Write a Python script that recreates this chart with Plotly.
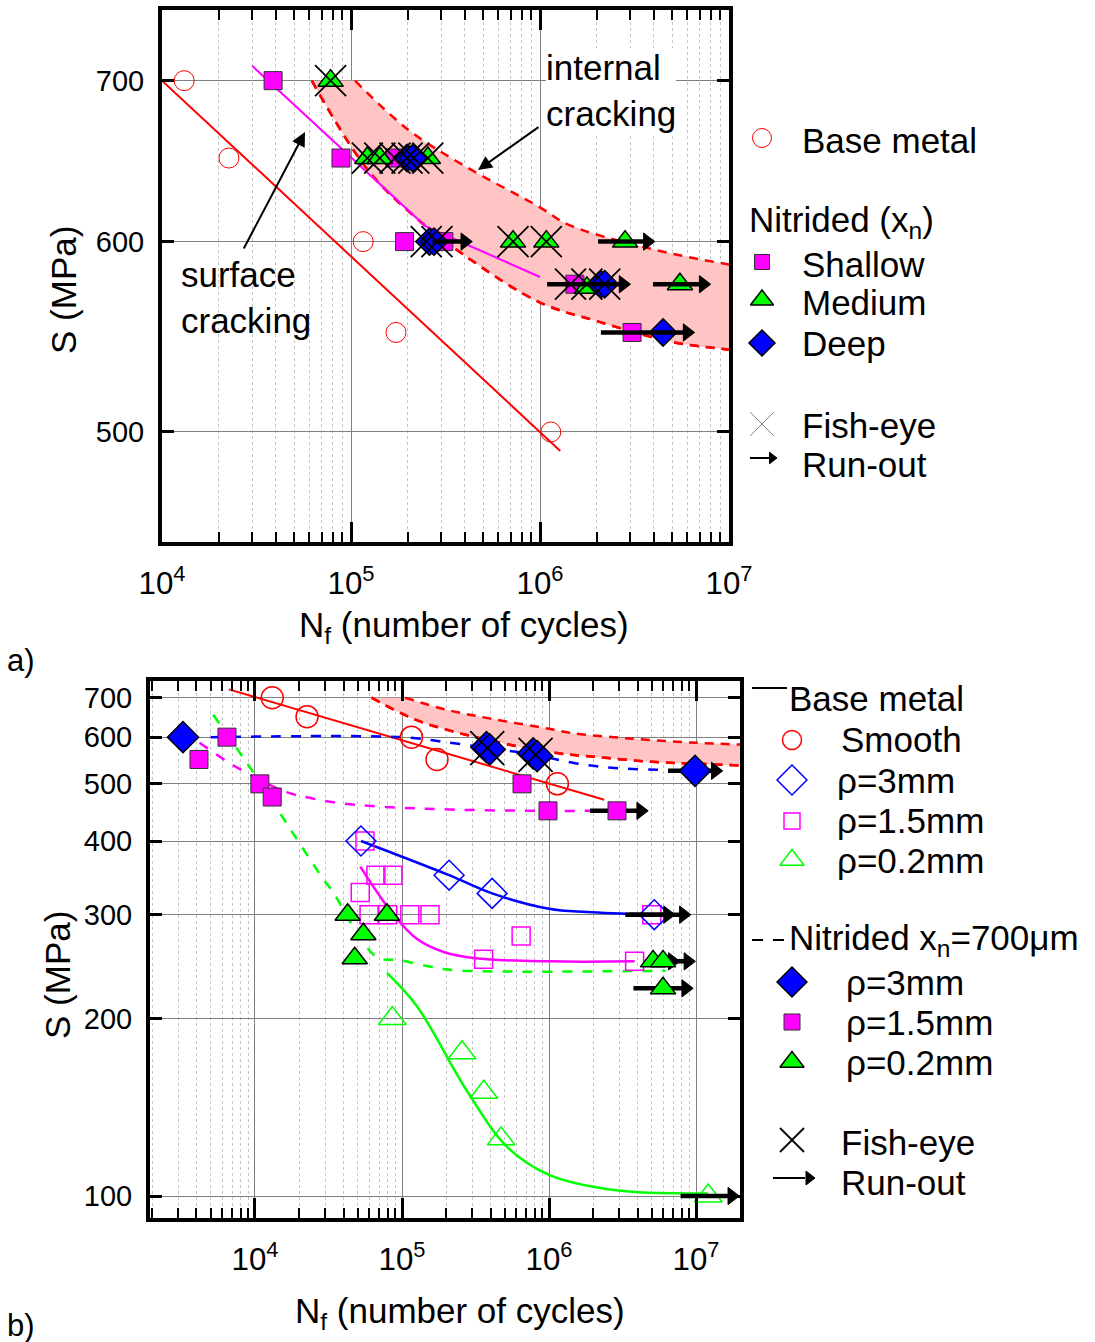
import math
import plotly.graph_objects as go

W, H = 1095, 1342
FONT = "Liberation Sans, Arial, sans-serif"

# ================= panel a) data =================
base_N = [1.31e4, 2.26e4, 1.16e5, 1.73e5, 1.14e6]
base_S = [700, 650, 600, 550, 500]
base_fit_a_N = [1.0e4, 1.28e6]
base_fit_a_S = [700, 491]

shallow_fit_N = [3.0e4, 2.47e5, 1.0e6]
shallow_fit_S = [710, 609, 580]

shallow_N = [3.87e4, 8.85e4, 1.71e5, 1.92e5, 3.1e5, 1.53e6, 3.07e6]
shallow_S = [700, 650, 650, 600, 600, 576, 550]
medium_N = [7.8e4, 1.22e5, 1.42e5, 2.55e5, 7.2e5, 1.08e6, 2.82e6, 1.77e6, 5.5e6]
medium_S = [700, 650, 650, 650, 600, 600, 600, 574, 576]
deep_N = [1.98e5, 2.12e5, 2.6e5, 2.75e5, 2.1e6, 2.2e6, 4.48e6]
deep_S = [650, 650, 600, 600, 576, 576, 550]

fish_a_N = [7.8e4, 1.22e5, 1.42e5, 1.71e5, 1.98e5, 2.15e5, 2.55e5, 2.5e5, 2.85e5,
            7.2e5, 1.08e6, 1.45e6, 1.77e6, 2.2e6]
fish_a_S = [700, 650, 650, 650, 650, 650, 650, 600, 600, 600, 600, 576, 576, 576]

runout_a_start = [2.7e5, 2.03e6, 1.09e6, 3.96e6, 2.1e6]
runout_a_end = [4.0e5, 3.7e6, 2.75e6, 7.3e6, 6.0e6]
runout_a_S = [600, 600, 576, 576, 550]

# internal-cracking scatter band (shared by both panels)
band_up_N = [1.05e5, 2.0e5, 4.0e5, 1.0e6, 1.4e6, 3.5e6, 1.0e7, 2.0e7]
band_up_S = [700, 668, 645, 620, 610, 597, 587, 583]
band_lo_N = [6.2e4, 1.22e5, 2.2e5, 4.0e5, 1.0e6, 2.0e6, 5.0e6, 1.0e7, 2.0e7]
band_lo_S = [700, 643, 614, 592, 566, 556, 545, 541, 537]

# ================= panel b) data =================
base_fit_b_N = [6.65e3, 2.37e6]
base_fit_b_S = [723, 470]

b3_N = [5.26e4, 2.09e5, 4.1e5, 5.2e6]
b3_S = [400, 350, 326, 300]
b3_fit_N = [5.26e4, 2.09e5, 4.1e5, 1.0e6, 1.8e6, 5.0e6]
b3_fit_S = [400, 350, 326, 307, 303, 300]

b15_N = [5.6e4, 6.65e4, 8.67e4, 5.2e4, 5.97e4, 8.0e4, 1.13e5, 1.55e5, 6.46e5, 3.59e5, 3.82e6, 5.0e6]
b15_S = [400, 350, 350, 327, 300, 300, 300, 300, 276, 252, 250, 300]
b15_fit_N = [5.2e4, 8.67e4, 1.26e5, 1.94e5, 3.17e5, 1.0e6, 3.82e6]
b15_fit_S = [362, 301, 273, 259, 253, 250, 250]

b02_N = [8.6e4, 2.56e5, 3.6e5, 4.72e5, 1.21e7]
b02_S = [200, 175, 150, 125, 100]
b02_fit_N = [7.9e4, 1.26e5, 2.8e5, 5.2e5, 1.0e6, 2.75e6, 1.21e7]
b02_fit_S = [239, 210, 150, 121, 108.6, 102.4, 101]

n3_N = [3.24e3, 3.75e5, 3.95e5, 7.8e5, 8.3e5, 9.84e6]
n3_S = [600, 577, 572, 563, 557, 526]
n3_fit_N = [5.0e3, 1.0e5, 1.83e5, 3.86e5, 8.1e5, 1.5e6, 2.8e6, 6.3e6]
n3_fit_S = [600, 600, 590, 575, 560, 542, 532, 528]

n15_N = [4.16e3, 6.45e3, 1.08e4, 1.31e4, 6.55e5, 9.84e5, 2.9e6]
n15_S = [550, 600, 500, 475, 500, 450, 450]
n15_fit_N = [4.2e3, 7.35e3, 1.64e4, 2.38e4, 3.67e4, 7.7e4, 2.35e5, 1.0e6, 1.95e6]
n15_fit_S = [587, 535, 484, 473, 464, 457, 452, 450, 450]

n02_N = [4.27e4, 7.9e4, 5.46e4, 4.77e4, 5.1e6, 5.96e6, 5.96e6]
n02_S = [300, 300, 278, 253, 250, 250, 225]
n02_fit_N = [5.2e3, 1.0e4, 1.75e4, 2.86e4, 3.44e4, 4.68e4, 6.78e4, 9.8e4, 1.6e5, 2.33e5, 6.2e6]
n02_fit_S = [655, 518, 418, 347, 326, 286, 254, 251, 244.5, 241.4, 241]

fish_b_N = [3.8e5, 8.1e5]
fish_b_S = [575, 560]

runout_b_start = [6.45e6, 1.9e6, 3.3e6, 3.5e6, 4.5e6, 5.0e6, 3.75e6, 7.85e6]
runout_b_end = [1.35e7, 4.2e6, 6.4e6, 8.2e6, 6.9e6, 8.8e6, 8.5e6, 1.75e7]
runout_b_S = [526, 450, 300, 300, 250, 250, 225, 100]

# ================= figure =================
fig = go.Figure()

RED, MAG, GRN, BLU = "#ff0000", "#ff00ff", "#00ff00", "#0000ff"


def line(xs, ys, color, width, dash="solid", shape="linear", ax="", fill=None, fillcolor=None):
    fig.add_trace(go.Scatter(x=xs, y=ys, mode="lines", xaxis="x" + ax, yaxis="y" + ax,
                             line=dict(color=color, width=width, dash=dash, shape=shape, smoothing=1.0),
                             fill=fill, fillcolor=fillcolor, showlegend=False, hoverinfo="skip"))


def pts(xs, ys, symbol, size, color, lcolor, lw, ax=""):
    fig.add_trace(go.Scatter(x=xs, y=ys, mode="markers", xaxis="x" + ax, yaxis="y" + ax,
                             marker=dict(symbol=symbol, size=size, color=color,
                                         line=dict(color=lcolor, width=lw)),
                             showlegend=False, hoverinfo="skip"))


def runouts(starts, ends, ss, ax="", lw=4.5, hs=15):
    for a, b, s in zip(starts, ends, ss):
        line([a, b], [s, s], "black", lw, ax=ax)
    pts(ends, ss, "triangle-right", hs, "black", "black", 1, ax=ax)


BAND = "rgb(255,196,196)"
BAND_DASH = "9px,7px"

# ---------- panel a ----------
line(band_lo_N, band_lo_S, RED, 2.5, BAND_DASH, "spline")
line(band_up_N, band_up_S, RED, 2.5, BAND_DASH, "spline", fill="tonexty", fillcolor=BAND)
line(band_lo_N, band_lo_S, RED, 2.5, BAND_DASH, "spline")
line(base_fit_a_N, base_fit_a_S, RED, 2)
line(shallow_fit_N, shallow_fit_S, MAG, 2)
pts(base_N, base_S, "circle-open", 20, RED, RED, 1)
pts(shallow_N, shallow_S, "square", 18, MAG, "#303030", 1)
pts(medium_N, medium_S, "triangle-up", 22, GRN, "black", 1.5)
pts(deep_N, deep_S, "diamond", 21, BLU, "black", 1.5)
runouts(runout_a_start, runout_a_end, runout_a_S)
pts(fish_a_N, fish_a_S, "x-thin-open", 31, "black", "black", 1.8)

# ---------- panel b ----------
line(band_lo_N, band_lo_S, RED, 2.5, BAND_DASH, "spline", ax="2")
line(band_up_N, band_up_S, RED, 2.5, BAND_DASH, "spline", ax="2", fill="tonexty", fillcolor=BAND)
line(band_lo_N, band_lo_S, RED, 2.5, BAND_DASH, "spline", ax="2")
line(base_fit_b_N, base_fit_b_S, RED, 2, ax="2")
line(b3_fit_N, b3_fit_S, BLU, 2.5, shape="spline", ax="2")
line(b15_fit_N, b15_fit_S, MAG, 2.5, shape="spline", ax="2")
line(b02_fit_N, b02_fit_S, GRN, 2.5, shape="spline", ax="2")
line(n3_fit_N, n3_fit_S, BLU, 2.5, "10px,10px", "spline", ax="2")
line(n15_fit_N, n15_fit_S, MAG, 2.5, "10px,10px", "spline", ax="2")
line(n02_fit_N, n02_fit_S, GRN, 2.5, "10px,10px", "spline", ax="2")
pts(base_N, base_S, "circle-open", 22, RED, RED, 1.5, ax="2")
pts(b15_N, b15_S, "square-open", 18, MAG, MAG, 1.5, ax="2")
pts(b3_N, b3_S, "diamond-open", 23, BLU, BLU, 1.5, ax="2")
pts(b02_N, b02_S, "triangle-up-open", 24, GRN, GRN, 1.5, ax="2")
runouts(runout_b_start, runout_b_end, runout_b_S, ax="2")
pts(n15_N, n15_S, "square", 18, MAG, "#303030", 1, ax="2")
pts(n02_N, n02_S, "triangle-up", 22, GRN, "black", 1.5, ax="2")
pts(n3_N, n3_S, "diamond", 24, BLU, "black", 1.5, ax="2")
pts(fish_b_N, fish_b_S, "x-thin-open", 34, "black", "black", 1.8, ax="2")

# ---------- legends (drawn in a pixel-space overlay axis) ----------
LX0 = 740


def lpts(x, y, symbol, size, color, lcolor, lw):
    fig.add_trace(go.Scatter(x=[x], y=[y], mode="markers", xaxis="x3", yaxis="y3",
                             marker=dict(symbol=symbol, size=size, color=color,
                                         line=dict(color=lcolor, width=lw)),
                             showlegend=False, hoverinfo="skip", cliponaxis=False))


def lline(x0, x1, y, color, width, dash="solid"):
    fig.add_trace(go.Scatter(x=[x0, x1], y=[y, y], mode="lines", xaxis="x3", yaxis="y3",
                             line=dict(color=color, width=width, dash=dash),
                             showlegend=False, hoverinfo="skip", cliponaxis=False))


# panel a legend symbols
lpts(762, 138, "circle-open", 19, RED, RED, 1)
lpts(762, 262, "square", 15, MAG, "#303030", 1)
lpts(762, 300, "triangle-up", 20, GRN, "black", 1.5)
lpts(762, 343, "diamond", 20, BLU, "black", 1.5)
lpts(762, 424, "x-thin-open", 24, "#888888", "#888888", 1)
lline(750, 770, 458, "black", 2)
lpts(772, 458, "triangle-right", 10, "black", "black", 1)

# panel b legend symbols
lline(752, 787, 688, "black", 2)
lpts(792, 740, "circle-open", 19, RED, RED, 1.5)
lpts(792, 780, "diamond-open", 23, BLU, BLU, 1.5)
lpts(792, 821, "square-open", 16, MAG, MAG, 1.5)
lpts(792, 860, "triangle-up-open", 21, GRN, GRN, 1.5)
lline(752, 786, 940, "black", 2, "11px,10px")
lpts(792, 982, "diamond", 23, BLU, "black", 1.5)
lpts(792, 1022, "square", 16, MAG, "#303030", 1)
lpts(792, 1062, "triangle-up", 21, GRN, "black", 1.5)
lpts(792, 1140, "x-thin-open", 24, "black", "black", 1.8)
lline(773, 805, 1178, "black", 2)
lpts(809, 1178, "triangle-right", 12, "black", "black", 1)


def px(x):
    return x / W


def py(y):
    return 1 - y / H


ann = []


def text(x, y, t, size=36, xanchor="left", angle=0, bg=None, family=FONT):
    d = dict(x=px(x), y=py(y), xref="paper", yref="paper", text=t, showarrow=False,
             xanchor=xanchor, yanchor="middle", align="left", textangle=angle,
             borderpad=0, borderwidth=0,
             font=dict(family=family, size=size, color="black"))
    if bg:
        d["bgcolor"] = bg
    ann.append(d)


LEG = 35
text(802, 140, "Base metal", LEG)
text(749, 222, "Nitrided (x<sub>n</sub>)", LEG)
text(802, 264, "Shallow", LEG)
text(802, 303, "Medium", LEG)
text(802, 344, "Deep", LEG)
text(802, 425, "Fish-eye", LEG)
text(802, 464, "Run-out", LEG)

text(789, 698, "Base metal", LEG)
text(841, 740, "Smooth", LEG)
text(837, 780, "ρ=3mm", LEG)
text(837, 820, "ρ=1.5mm", LEG)
text(837, 860, "ρ=0.2mm", LEG)
text(789, 940, "Nitrided x<sub>n</sub>=700μm", LEG)
text(846, 982, "ρ=3mm", LEG)
text(846, 1022, "ρ=1.5mm", LEG)
text(846, 1062, "ρ=0.2mm", LEG)
text(841, 1142, "Fish-eye", LEG)
text(841, 1182, "Run-out", LEG)

# axis titles and panel labels
text(464, 627, "N<sub>f</sub> (number of cycles)", 35, xanchor="center")
text(460, 1313, "N<sub>f</sub> (number of cycles)", 35, xanchor="center")
text(64, 290, "S (MPa)", 35, xanchor="center", angle=-90)
text(57, 975, "S (MPa)", 35, xanchor="center", angle=-90)
text(7, 660, "a)", 31)
text(7, 1325, "b)", 31)

# cracking labels
text(546, 90, "internal<br>cracking", 35, bg="white")
text(181, 297, "surface<br>cracking", 35)
for (hx, hy, tx, ty) in [(478, 170, 540, 126), (305, 132, 243, 250)]:
    ann.append(dict(x=px(hx), y=py(hy), xref="paper", yref="paper", ax=tx - hx, ay=ty - hy,
                    axref="pixel", ayref="pixel", text="", showarrow=True,
                    arrowhead=2, arrowsize=1.4, arrowwidth=2, arrowcolor="black"))


def xaxis(dom, rng, anchor):
    return dict(type="log", domain=dom, range=rng, anchor=anchor,
                dtick=1, exponentformat="power", showexponent="all",
                tickfont=dict(family=FONT, size=25, color="black"),
                ticks="inside", ticklen=20, tickwidth=3, tickcolor="black",
                showline=True, linewidth=4, linecolor="black", mirror="ticks",
                showgrid=True, gridcolor="#808080", gridwidth=1,
                minor=dict(ticks="inside", ticklen=10, tickwidth=2, tickcolor="black",
                           showgrid=True, gridcolor="#c4c4c4", griddash="dot", gridwidth=1),
                ticklabelstandoff=12, zeroline=False, automargin=False)


def yaxis(dom, rng, anchor, vals):
    return dict(type="log", domain=dom, range=rng, anchor=anchor,
                tickvals=vals, ticktext=[str(v) for v in vals],
                tickfont=dict(family=FONT, size=29, color="black"),
                ticks="inside", ticklen=12, tickwidth=3, tickcolor="black",
                showline=True, linewidth=4, linecolor="black", mirror="ticks",
                showgrid=True, gridcolor="#808080", gridwidth=1,
                ticklabelstandoff=8, zeroline=False, automargin=False)


fig.update_layout(
    width=W, height=H, autosize=False,
    margin=dict(l=0, r=0, t=0, b=0, pad=0, autoexpand=False),
    paper_bgcolor="white", plot_bgcolor="white", showlegend=False,
    font=dict(family=FONT, color="black"),
    xaxis=xaxis([162 / W, 729 / W], [4, 7], "y"),
    yaxis=yaxis([1 - 542 / H, 1 - 10 / H], [math.log10(450), math.log10(749)], "x", [500, 600, 700]),
    xaxis2=xaxis([150 / W, 740 / W], [math.log10(1932), math.log10(1.99e7)], "y2"),
    yaxis2=yaxis([1 - 1218 / H, 1 - 681 / H], [1.9627, 2.8734], "x2",
                 [100, 200, 300, 400, 500, 600, 700]),
    xaxis3=dict(domain=[LX0 / W, 1], range=[LX0, W], visible=False, anchor="y3", fixedrange=True,
                automargin=False),
    yaxis3=dict(domain=[0, 1], range=[H, 0], visible=False, anchor="x3", fixedrange=True,
                automargin=False),
    annotations=ann,
)

fig.write_html("out.html", config={"responsive": False})
